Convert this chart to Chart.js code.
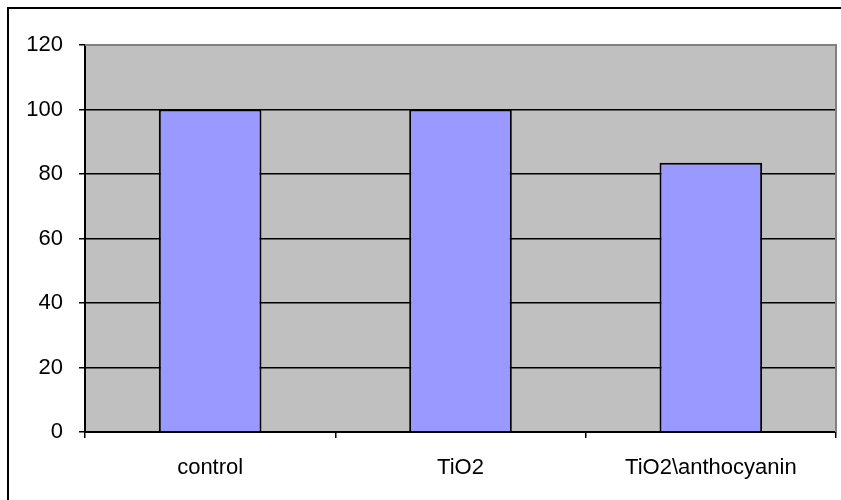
<!DOCTYPE html>
<html>
<head>
<meta charset="utf-8">
<script src="https://cdn.jsdelivr.net/npm/chart.js@4"></script>
<style>
  html, body { margin: 0; padding: 0; background: #fff; }
  #wrap { width: 841px; height: 500px; }
</style>
</head>
<body>
<div id="wrap"><canvas id="myChart" width="841" height="500"></canvas></div>
<script>
// Chart data
const categories = ['control', 'TiO2', 'TiO2\\anthocyanin'];
const values = [100, 100, 83.5];
const yTicks = [0, 20, 40, 60, 80, 100, 120];

// Outer frame and gray plot background
const framePlugin = {
    id: 'frame',
    beforeDraw(chart) {
        const ctx = chart.ctx;
        const a = chart.chartArea;
        ctx.save();
        ctx.fillStyle = '#fff';
        ctx.fillRect(0, 0, chart.width, chart.height);
        ctx.strokeStyle = '#000';
        ctx.lineWidth = 2;
        ctx.strokeRect(8, 8, 840, 500);
        ctx.fillStyle = '#C0C0C0';
        ctx.fillRect(a.left, a.top, a.right - a.left, a.bottom - a.top);
        ctx.restore();
    },
    afterDatasetsDraw(chart) {
        const ctx = chart.ctx;
        const a = chart.chartArea;
        ctx.save();
        ctx.strokeStyle = '#808080';
        ctx.lineWidth = 2;
        ctx.beginPath();
        ctx.moveTo(a.left, a.top);
        ctx.lineTo(a.right, a.top);
        ctx.lineTo(a.right, a.bottom);
        ctx.stroke();
        ctx.restore();
    }
};

const ctx = document.getElementById('myChart');
new Chart(ctx, {
    type: 'bar',
    data: {
        labels: categories,
        datasets: [{
            data: values,
            backgroundColor: '#9999FF',
            borderColor: '#000',
            borderWidth: 2,
            barPercentage: 0.41,
            categoryPercentage: 1
        }]
    },
    options: {
        responsive: false,
        animation: false,
        layout: { padding: { top: 45, right: 5, left: 0, bottom: 0 } },
        plugins: { legend: { display: false }, tooltip: { enabled: false } },
        scales: {
            x: {
                offset: true,
                grid: { offset: true, drawOnChartArea: false, drawTicks: true, tickLength: 6, color: '#000', lineWidth: 1.5 },
                border: { color: '#000', width: 2 },
                ticks: { color: '#000', padding: 17, font: { family: 'Liberation Sans, Arial', size: 22 } },
                afterFit(scale) { scale.height = 68; }
            },
            y: {
                min: 0,
                max: 120,
                afterBuildTicks(scale) { scale.ticks = yTicks.map(v => ({ value: v })); },
                grid: { color: '#000', lineWidth: 1.5, drawTicks: true, tickLength: 6 },
                border: { color: '#000', width: 2 },
                ticks: { color: '#000', padding: 16, font: { family: 'Liberation Sans, Arial', size: 22 } },
                afterFit(scale) { scale.width = 85; }
            }
        }
    },
    plugins: [framePlugin]
});
</script>
</body>
</html>
